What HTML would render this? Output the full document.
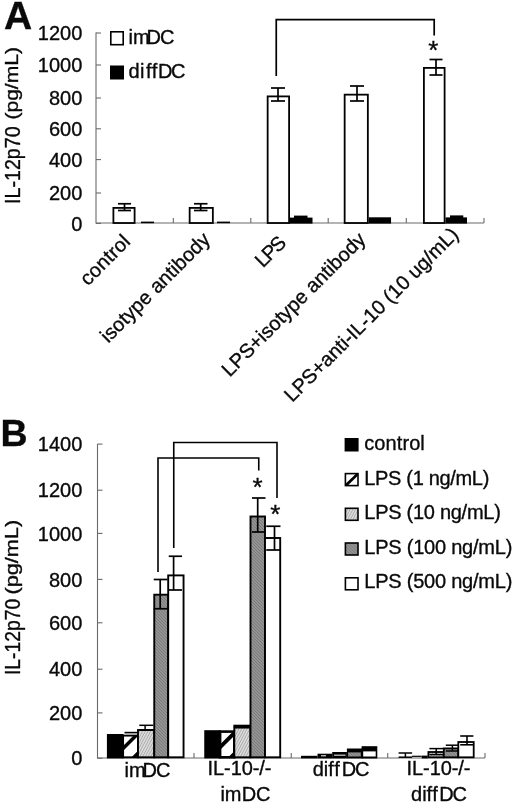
<!DOCTYPE html>
<html><head><meta charset="utf-8"><title>Figure</title>
<style>html,body{margin:0;padding:0;background:#fff}svg{display:block}text{font-family:"Liberation Sans",Arial,sans-serif;fill:#0a0a0a;stroke:#0a0a0a;stroke-width:0.35px}.t{font-size:20px}.b{font-size:39px;font-weight:bold}</style></head><body>
<svg width="520" height="806" viewBox="0 0 520 806">
<defs>
<pattern id="hatch" patternUnits="userSpaceOnUse" width="19.2" height="19.2">
<rect width="19.2" height="19.2" fill="#fff"/>
<path d="M-2,9.15 L9.15,-2 M-2,28.35 L28.35,-2 M7,21.35 L21.35,7" stroke="#000" stroke-width="3.8"/>
</pattern>
<pattern id="light" patternUnits="userSpaceOnUse" width="2.4" height="2.4" patternTransform="rotate(28)">
<rect width="2.4" height="2.4" fill="#dedede"/>
<rect x="0.7" width="0.9" height="2.4" fill="#a8a8a8"/>
</pattern>
<pattern id="dark" patternUnits="userSpaceOnUse" width="2.2" height="2.2" patternTransform="rotate(-45)">
<rect width="2.2" height="2.2" fill="#9e9e9e"/>
<rect x="0.6" width="1" height="2.2" fill="#757575"/>
</pattern>
</defs>
<rect width="520" height="806" fill="#fff"/>
<text class="b" x="4" y="28.8" text-anchor="start">A</text>
<line x1="96" y1="32.5" x2="96" y2="223.5" stroke="#6a6a6a" stroke-width="1.1" stroke-linecap="butt"/>
<line x1="96" y1="223" x2="484" y2="223" stroke="#6a6a6a" stroke-width="1.1" stroke-linecap="butt"/>
<line x1="96" y1="223.4" x2="101" y2="223.4" stroke="#6a6a6a" stroke-width="1.1" stroke-linecap="butt"/>
<text class="t" x="82.3" y="230.6" text-anchor="end">0</text>
<line x1="96" y1="193" x2="101" y2="193" stroke="#6a6a6a" stroke-width="1.1" stroke-linecap="butt"/>
<text class="t" x="82.3" y="200.2" text-anchor="end">200</text>
<line x1="96" y1="159.6" x2="101" y2="159.6" stroke="#6a6a6a" stroke-width="1.1" stroke-linecap="butt"/>
<text class="t" x="82.3" y="166.8" text-anchor="end">400</text>
<line x1="96" y1="128.8" x2="101" y2="128.8" stroke="#6a6a6a" stroke-width="1.1" stroke-linecap="butt"/>
<text class="t" x="82.3" y="136.0" text-anchor="end">600</text>
<line x1="96" y1="98" x2="101" y2="98" stroke="#6a6a6a" stroke-width="1.1" stroke-linecap="butt"/>
<text class="t" x="82.3" y="105.2" text-anchor="end">800</text>
<line x1="96" y1="65" x2="101" y2="65" stroke="#6a6a6a" stroke-width="1.1" stroke-linecap="butt"/>
<text class="t" x="82.3" y="72.2" text-anchor="end">1000</text>
<line x1="96" y1="33" x2="101" y2="33" stroke="#6a6a6a" stroke-width="1.1" stroke-linecap="butt"/>
<text class="t" x="82.3" y="40.2" text-anchor="end">1200</text>
<line x1="173.3" y1="223" x2="173.3" y2="218" stroke="#6a6a6a" stroke-width="1.1" stroke-linecap="butt"/>
<line x1="250.8" y1="223" x2="250.8" y2="218" stroke="#6a6a6a" stroke-width="1.1" stroke-linecap="butt"/>
<line x1="328.2" y1="223" x2="328.2" y2="218" stroke="#6a6a6a" stroke-width="1.1" stroke-linecap="butt"/>
<line x1="406.3" y1="223" x2="406.3" y2="218" stroke="#6a6a6a" stroke-width="1.1" stroke-linecap="butt"/>
<line x1="484" y1="223" x2="484" y2="218" stroke="#6a6a6a" stroke-width="1.1" stroke-linecap="butt"/>
<text class="t" style="font-size:21.5px" transform="translate(20.3,203.9) rotate(-90) scale(0.913,1)">IL-12p70</text>
<text class="t" style="font-size:18.5px" transform="translate(18,119.6) rotate(-90) scale(1.14,1)">(pg/mL)</text>
<rect x="110.8" y="31.8" width="12.4" height="12.9" fill="#fff" stroke="#000" stroke-width="1.6"/>
<rect x="110" y="65.5" width="14" height="14" fill="#000"/>
<text class="t" x="128.5" y="44.3" text-anchor="start">im<tspan dx="-3.2 -0.8">DC</tspan></text>
<text class="t" x="128.5" y="78" text-anchor="start" dx="0 0.4 1.5 0.6 0.6 -1.3">diffDC</text>
<rect x="113.40" y="207.90" width="21.20" height="15.10" fill="#fff" stroke="#000" stroke-width="1.8"/>
<line x1="124.5" y1="203.75" x2="124.5" y2="210.5" stroke="#000" stroke-width="1.7" stroke-linecap="butt"/>
<line x1="118" y1="203.75" x2="131" y2="203.75" stroke="#000" stroke-width="1.7" stroke-linecap="butt"/>
<line x1="118" y1="210.5" x2="131" y2="210.5" stroke="#000" stroke-width="1.7" stroke-linecap="butt"/>
<rect x="189.65" y="207.90" width="23.20" height="15.10" fill="#fff" stroke="#000" stroke-width="1.8"/>
<line x1="200.7" y1="203.75" x2="200.7" y2="210.5" stroke="#000" stroke-width="1.7" stroke-linecap="butt"/>
<line x1="194" y1="203.75" x2="207.5" y2="203.75" stroke="#000" stroke-width="1.7" stroke-linecap="butt"/>
<line x1="194" y1="210.5" x2="207.5" y2="210.5" stroke="#000" stroke-width="1.7" stroke-linecap="butt"/>
<rect x="267.65" y="96.40" width="21.45" height="126.60" fill="#fff" stroke="#000" stroke-width="1.8"/>
<line x1="278" y1="88" x2="278" y2="101" stroke="#000" stroke-width="1.7" stroke-linecap="butt"/>
<line x1="271" y1="88" x2="285" y2="88" stroke="#000" stroke-width="1.7" stroke-linecap="butt"/>
<line x1="271" y1="101" x2="285" y2="101" stroke="#000" stroke-width="1.7" stroke-linecap="butt"/>
<rect x="344.65" y="94.65" width="23.20" height="128.35" fill="#fff" stroke="#000" stroke-width="1.8"/>
<line x1="357" y1="86" x2="357" y2="101" stroke="#000" stroke-width="1.7" stroke-linecap="butt"/>
<line x1="350" y1="86" x2="364" y2="86" stroke="#000" stroke-width="1.7" stroke-linecap="butt"/>
<line x1="350" y1="101" x2="364" y2="101" stroke="#000" stroke-width="1.7" stroke-linecap="butt"/>
<rect x="423.90" y="67.90" width="20.70" height="155.10" fill="#fff" stroke="#000" stroke-width="1.8"/>
<line x1="436" y1="59.5" x2="436" y2="75" stroke="#000" stroke-width="1.7" stroke-linecap="butt"/>
<line x1="429.5" y1="59.5" x2="442.5" y2="59.5" stroke="#000" stroke-width="1.7" stroke-linecap="butt"/>
<line x1="429.5" y1="75" x2="442.5" y2="75" stroke="#000" stroke-width="1.7" stroke-linecap="butt"/>
<line x1="141" y1="222.4" x2="154" y2="222.4" stroke="#000" stroke-width="1.6" stroke-linecap="butt"/>
<line x1="217" y1="222.4" x2="230" y2="222.4" stroke="#000" stroke-width="1.6" stroke-linecap="butt"/>
<rect x="290" y="217.6" width="22.5" height="6" fill="#000"/><rect x="294" y="215.6" width="13.5" height="3" fill="#000"/>
<rect x="368.75" y="217.3" width="22.3" height="6.3" fill="#000"/>
<rect x="445.5" y="217.4" width="21.5" height="6.2" fill="#000"/><rect x="450" y="215.4" width="13.3" height="3" fill="#000"/>
<polyline points="276.25,76 276.25,19.6 434.2,19.6 434.2,35.5" fill="none" stroke="#000" stroke-width="1.7"/>
<text x="433.2" y="59" text-anchor="middle" style="font-size:26px">*</text>
<text class="t" text-anchor="end" textLength="61.7" lengthAdjust="spacing" transform="translate(131.5,242.8) rotate(-45)">control</text>
<text class="t" text-anchor="end" textLength="145.8" lengthAdjust="spacing" transform="translate(211.3,240.7) rotate(-45)">isotype antibody</text>
<text class="t" text-anchor="end" textLength="34.5" lengthAdjust="spacing" transform="translate(287.4,244) rotate(-45)">LPS</text>
<text class="t" text-anchor="end" textLength="193.8" lengthAdjust="spacing" transform="translate(366.7,240.6) rotate(-45)">LPS+isotype antibody</text>
<text class="t" text-anchor="end" textLength="236.6" lengthAdjust="spacing" transform="translate(459.6,235.7) rotate(-45)">LPS+anti-IL-10 (10 ug/mL)</text>
<text class="b" x="0.6" y="446" text-anchor="start" style="font-size:37.5px">B</text>
<line x1="97.5" y1="444.0" x2="97.5" y2="758.5" stroke="#6a6a6a" stroke-width="1.1" stroke-linecap="butt"/>
<line x1="97.5" y1="758" x2="485" y2="758" stroke="#6a6a6a" stroke-width="1.1" stroke-linecap="butt"/>
<line x1="97.5" y1="758.2" x2="102.5" y2="758.2" stroke="#6a6a6a" stroke-width="1.1" stroke-linecap="butt"/>
<text class="t" x="82.3" y="765.4" text-anchor="end">0</text>
<line x1="97.5" y1="712.9" x2="102.5" y2="712.9" stroke="#6a6a6a" stroke-width="1.1" stroke-linecap="butt"/>
<text class="t" x="82.3" y="720.1" text-anchor="end">200</text>
<line x1="97.5" y1="669.2" x2="102.5" y2="669.2" stroke="#6a6a6a" stroke-width="1.1" stroke-linecap="butt"/>
<text class="t" x="82.3" y="676.4" text-anchor="end">400</text>
<line x1="97.5" y1="622.8" x2="102.5" y2="622.8" stroke="#6a6a6a" stroke-width="1.1" stroke-linecap="butt"/>
<text class="t" x="82.3" y="630.0" text-anchor="end">600</text>
<line x1="97.5" y1="579.4" x2="102.5" y2="579.4" stroke="#6a6a6a" stroke-width="1.1" stroke-linecap="butt"/>
<text class="t" x="82.3" y="586.6" text-anchor="end">800</text>
<line x1="97.5" y1="533.4" x2="102.5" y2="533.4" stroke="#6a6a6a" stroke-width="1.1" stroke-linecap="butt"/>
<text class="t" x="82.3" y="540.6" text-anchor="end">1000</text>
<line x1="97.5" y1="490.2" x2="102.5" y2="490.2" stroke="#6a6a6a" stroke-width="1.1" stroke-linecap="butt"/>
<text class="t" x="82.3" y="497.4" text-anchor="end">1200</text>
<line x1="97.5" y1="444.1" x2="102.5" y2="444.1" stroke="#6a6a6a" stroke-width="1.1" stroke-linecap="butt"/>
<text class="t" x="82.3" y="451.3" text-anchor="end">1400</text>
<line x1="194" y1="758" x2="194" y2="753" stroke="#6a6a6a" stroke-width="1.1" stroke-linecap="butt"/>
<line x1="291.25" y1="758" x2="291.25" y2="753" stroke="#6a6a6a" stroke-width="1.1" stroke-linecap="butt"/>
<line x1="387.7" y1="758" x2="387.7" y2="753" stroke="#6a6a6a" stroke-width="1.1" stroke-linecap="butt"/>
<line x1="485" y1="758" x2="485" y2="753" stroke="#6a6a6a" stroke-width="1.1" stroke-linecap="butt"/>
<text class="t" style="font-size:21.5px" transform="translate(20.3,675.1) rotate(-90) scale(0.9,1)">IL-12p70</text>
<text class="t" style="font-size:18.5px" transform="translate(18,594.6) rotate(-90) scale(1.175,1)">(pg/mL)</text>
<rect x="106.9" y="734" width="16.69999999999999" height="24.4" fill="#000"/>
<clipPath id="h1"><rect x="123.1" y="735" width="14.900000000000006" height="23"/></clipPath>
<rect x="123.1" y="735" width="14.900000000000006" height="23" fill="#fff"/>
<path d="M121.1,748.0 L140,729.1 L140,733.9 L121.1,752.8 Z M121.1,767.6999999999999 L140,748.8 L140,753.6 L121.1,772.5 Z " fill="#000" clip-path="url(#h1)"/>
<rect x="123.10" y="735.60" width="14.90" height="21.70" fill="none" stroke="#000" stroke-width="1.9"/>
<line x1="124.5" y1="732.6" x2="137.5" y2="732.6" stroke="#000" stroke-width="1.6" stroke-linecap="butt"/>
<rect x="138.00" y="730.00" width="16.25" height="27.30" fill="url(#light)" stroke="#000" stroke-width="1.9"/>
<line x1="145.1" y1="725.3" x2="145.1" y2="730" stroke="#000" stroke-width="1.5" stroke-linecap="butt"/>
<line x1="139.3" y1="725.3" x2="153.3" y2="725.3" stroke="#000" stroke-width="1.5" stroke-linecap="butt"/>
<line x1="139.3" y1="730" x2="153.3" y2="730" stroke="#000" stroke-width="1.5" stroke-linecap="butt"/>
<rect x="154.25" y="594.70" width="13.95" height="162.60" fill="url(#dark)" stroke="#000" stroke-width="1.9"/>
<line x1="160.2" y1="579.5" x2="160.2" y2="608.75" stroke="#000" stroke-width="1.7" stroke-linecap="butt"/>
<line x1="153.75" y1="579.5" x2="167.5" y2="579.5" stroke="#000" stroke-width="1.7" stroke-linecap="butt"/>
<line x1="153.75" y1="608.75" x2="167.5" y2="608.75" stroke="#000" stroke-width="1.7" stroke-linecap="butt"/>
<rect x="168.20" y="575.40" width="15.35" height="181.90" fill="#fff" stroke="#000" stroke-width="1.9"/>
<line x1="173.6" y1="556.25" x2="173.6" y2="590" stroke="#000" stroke-width="1.7" stroke-linecap="butt"/>
<line x1="168.75" y1="556.25" x2="182" y2="556.25" stroke="#000" stroke-width="1.7" stroke-linecap="butt"/>
<line x1="168.75" y1="590" x2="182" y2="590" stroke="#000" stroke-width="1.7" stroke-linecap="butt"/>
<rect x="204.25" y="730.2" width="16.349999999999994" height="28.2" fill="#000"/>
<clipPath id="h2"><rect x="220.1" y="731" width="14.200000000000017" height="27"/></clipPath>
<rect x="220.1" y="731" width="14.200000000000017" height="27" fill="#fff"/>
<path d="M218.1,746.4 L236.3,728.2 L236.3,733.7 L218.1,751.9 Z M218.1,767.4 L236.3,749.2 L236.3,754.7 L218.1,772.9 Z " fill="#000" clip-path="url(#h2)"/>
<rect x="220.10" y="731.60" width="14.20" height="25.70" fill="none" stroke="#000" stroke-width="2.6"/>
<rect x="234.30" y="727.60" width="16.20" height="29.70" fill="url(#light)" stroke="#000" stroke-width="1.9"/>
<line x1="233.4" y1="726" x2="251.4" y2="726" stroke="#000" stroke-width="2.6" stroke-linecap="butt"/>
<rect x="250.50" y="516.50" width="14.50" height="240.80" fill="url(#dark)" stroke="#000" stroke-width="1.9"/>
<line x1="257.7" y1="498" x2="257.7" y2="532" stroke="#000" stroke-width="1.7" stroke-linecap="butt"/>
<line x1="252" y1="498" x2="265.5" y2="498" stroke="#000" stroke-width="1.7" stroke-linecap="butt"/>
<line x1="252" y1="532" x2="265.5" y2="532" stroke="#000" stroke-width="1.7" stroke-linecap="butt"/>
<rect x="265.00" y="538.00" width="15.20" height="219.30" fill="#fff" stroke="#000" stroke-width="1.9"/>
<line x1="274.5" y1="526.25" x2="274.5" y2="550" stroke="#000" stroke-width="1.7" stroke-linecap="butt"/>
<line x1="266.25" y1="526.25" x2="280.5" y2="526.25" stroke="#000" stroke-width="1.7" stroke-linecap="butt"/>
<line x1="266.25" y1="550" x2="280.5" y2="550" stroke="#000" stroke-width="1.7" stroke-linecap="butt"/>
<rect x="301" y="755.8" width="16.5" height="2.6" fill="#000"/>
<rect x="317.5" y="753.7" width="14.699999999999989" height="4.7" fill="#000"/>
<rect x="321" y="755.3" width="5" height="1" fill="#fff"/>
<rect x="332.2" y="752" width="14.699999999999989" height="6.4" fill="#000"/>
<rect x="334" y="754.6" width="11.5" height="1.2" fill="#d0d0d0"/>
<rect x="346.9" y="748.5" width="15.700000000000045" height="9.9" fill="#000"/>
<rect x="348.09999999999997" y="752.4" width="12.700000000000045" height="4.1" fill="url(#dark)"/>
<rect x="361.6" y="746.2" width="15.699999999999989" height="12.3" fill="#000"/>
<rect x="363.20000000000005" y="751.4" width="12.49999999999999" height="5.1" fill="#fff"/>
<line x1="405.4" y1="753" x2="405.4" y2="757.2" stroke="#000" stroke-width="1.5" stroke-linecap="butt"/>
<line x1="398.6" y1="753" x2="412.1" y2="753" stroke="#000" stroke-width="1.5" stroke-linecap="butt"/>
<line x1="398.6" y1="757.2" x2="412.1" y2="757.2" stroke="#000" stroke-width="1.5" stroke-linecap="butt"/>
<line x1="412" y1="756.3" x2="421.7" y2="756.3" stroke="#000" stroke-width="1.2" stroke-linecap="butt"/>
<rect x="421.7" y="755.6" width="6" height="2.8" fill="#000"/>
<rect x="428.40" y="752.00" width="15.40" height="5.30" fill="url(#light)" stroke="#000" stroke-width="1.8"/>
<line x1="436.2" y1="748.6" x2="436.2" y2="754.6" stroke="#000" stroke-width="1.5" stroke-linecap="butt"/>
<line x1="429.4" y1="748.6" x2="443.4" y2="748.6" stroke="#000" stroke-width="1.5" stroke-linecap="butt"/>
<line x1="429.4" y1="754.6" x2="443.4" y2="754.6" stroke="#000" stroke-width="1.5" stroke-linecap="butt"/>
<rect x="443.80" y="748.40" width="14.50" height="8.90" fill="url(#dark)" stroke="#000" stroke-width="1.8"/>
<line x1="452.4" y1="745.2" x2="452.4" y2="751" stroke="#000" stroke-width="1.5" stroke-linecap="butt"/>
<line x1="445.8" y1="745.2" x2="458" y2="745.2" stroke="#000" stroke-width="1.5" stroke-linecap="butt"/>
<line x1="445.8" y1="751" x2="458" y2="751" stroke="#000" stroke-width="1.5" stroke-linecap="butt"/>
<rect x="458.30" y="742.00" width="15.40" height="15.30" fill="#fff" stroke="#000" stroke-width="1.8"/>
<line x1="467" y1="736" x2="467" y2="744.8" stroke="#000" stroke-width="1.6" stroke-linecap="butt"/>
<line x1="460.2" y1="736" x2="473.4" y2="736" stroke="#000" stroke-width="1.6" stroke-linecap="butt"/>
<line x1="460.2" y1="744.8" x2="473.4" y2="744.8" stroke="#000" stroke-width="1.6" stroke-linecap="butt"/>
<polyline points="158,572 158,458 258.75,458 258.75,470.5" fill="none" stroke="#000" stroke-width="1.6"/>
<polyline points="173.75,548 173.75,442.5 277,442.5 277,498" fill="none" stroke="#000" stroke-width="1.6"/>
<text x="257.6" y="495.6" text-anchor="middle" style="font-size:26px">*</text>
<text x="275.2" y="522.6" text-anchor="middle" style="font-size:26px">*</text>
<text class="t" x="124.5" y="776.7" text-anchor="start">im<tspan dx="-3.2 -0.8">DC</tspan></text>
<text class="t" x="207.5" y="775" text-anchor="start" textLength="64" lengthAdjust="spacing">IL-10-/-</text>
<text class="t" x="220.5" y="801" text-anchor="start" letter-spacing="-0.3">im<tspan dx="0.8">DC</tspan></text>
<text class="t" x="312.7" y="776" text-anchor="start" dx="0 0 0 0.8 1.9 -1.3">diffDC</text>
<text class="t" x="406.5" y="775" text-anchor="start" textLength="64" lengthAdjust="spacing">IL-10-/-</text>
<text class="t" x="411" y="801" text-anchor="start" dx="0 0 0 0.5 1.4 -1.2">diffDC</text>
<rect x="344.6" y="438.0" width="14" height="13.5" fill="#000"/>
<text class="t" x="364.3" y="450.2" text-anchor="start" textLength="60.5" lengthAdjust="spacing">control</text>
<rect x="345.40000000000003" y="473.6" width="12.6" height="12" fill="#fff" stroke="#000" stroke-width="1.6"/>
<path d="M345.8,485.4 L345.8,483.4 L356.0,473.8 L357.8,473.8 L357.8,475.8 L347.8,485.4 Z" fill="#000"/>
<text class="t" x="364.3" y="484.7" text-anchor="start" textLength="125" lengthAdjust="spacing">LPS (1 ng/mL)</text>
<rect x="345.40000000000003" y="508.3" width="12.6" height="12" fill="url(#light)" stroke="#000" stroke-width="1.6"/>
<text class="t" x="364.3" y="519.2" text-anchor="start" textLength="136.5" lengthAdjust="spacing">LPS (10 ng/mL)</text>
<rect x="345.40000000000003" y="543.0" width="12.6" height="12" fill="url(#dark)" stroke="#000" stroke-width="1.6"/>
<text class="t" x="364.3" y="553.7" text-anchor="start" textLength="148" lengthAdjust="spacing">LPS (100 ng/mL)</text>
<rect x="345.40000000000003" y="577.8" width="12.6" height="12" fill="#fff" stroke="#000" stroke-width="1.6"/>
<text class="t" x="364.3" y="588.2" text-anchor="start" textLength="148" lengthAdjust="spacing">LPS (500 ng/mL)</text>
</svg></body></html>
